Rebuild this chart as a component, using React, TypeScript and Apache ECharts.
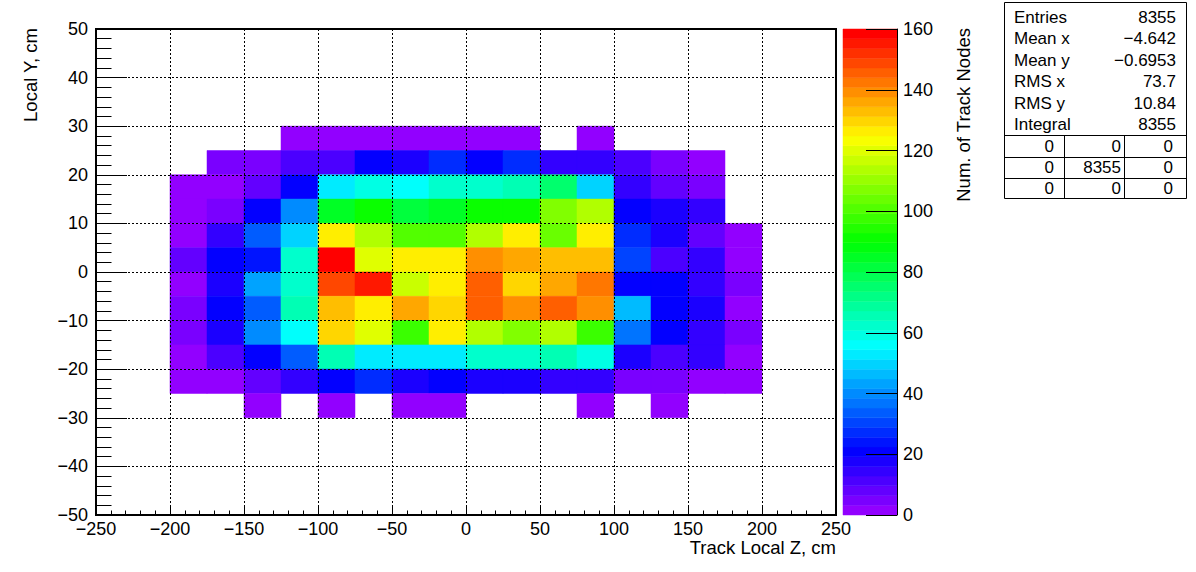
import React, { useEffect, useRef } from 'react';
import * as echarts from 'echarts';

// ---------- data ----------
const zLowEdges = [-200, -175, -150, -125, -100, -75, -50, -25, 0, 25, 50, 75, 100, 125, 150, 175];
const yLowEdges = [25, 20, 15, 10, 5, 0, -5, -10, -15, -20, -25, -30];
const Z_BIN_WIDTH = 25;
const Y_BIN_WIDTH = 5;

const countsY25 = [null, null, null, 2, 2, 3, 2, 2, 2, 3, null, 2, null, null, null, null];
const countsY20 = [null, 5, 5, 11, 11, 21, 18, 27, 21, 27, 14, 14, 11, 5, 2, null];
const countsY15 = [2, 2, 8, 21, 53, 59, 56, 62, 62, 66, 75, 50, 14, 8, 5, null];
const countsY10 = [2, 5, 21, 40, 85, 91, 82, 85, 91, 91, 107, 114, 21, 18, 14, null];
const countsY5 = [2, 14, 34, 50, 126, 114, 101, 101, 114, 126, 104, 126, 27, 18, 8, 2];
const countsY0 = [8, 21, 25, 62, 159, 120, 126, 126, 139, 136, 133, 133, 30, 11, 14, 2];
const countsYm5 = [2, 18, 43, 62, 149, 155, 117, 126, 146, 130, 136, 142, 21, 21, 14, 5];
const countsYm10 = [5, 21, 34, 66, 133, 126, 136, 130, 146, 139, 146, 139, 46, 21, 18, 2];
const countsYm15 = [5, 18, 40, 56, 130, 120, 98, 126, 114, 107, 114, 98, 37, 21, 14, 5];
const countsYm20 = [2, 11, 21, 34, 66, 53, 53, 53, 62, 62, 66, 59, 18, 11, 14, 2];
const countsYm25 = [2, 2, 8, 14, 21, 27, 18, 21, 18, 18, 14, 14, 5, 5, 2, 2];
const countsYm30 = [null, null, 2, null, 2, null, 2, 2, null, null, null, 2, null, 2, null, null];

const countRows = [
  countsY25, countsY20, countsY15, countsY10, countsY5, countsY0,
  countsYm5, countsYm10, countsYm15, countsYm20, countsYm25, countsYm30,
];

const Z_MIN = 0;
const Z_MAX = 160;
const N_COLORS = 50;

const statLabels = ['Entries', 'Mean x', 'Mean y', 'RMS x', 'RMS y', 'Integral'];
const statValues = ['8355', '\u22124.642', '\u22120.6953', '73.7', '10.84', '8355'];
const statTable = [
  ['0', '0', '0'],
  ['0', '8355', '0'],
  ['0', '0', '0'],
];

const xTitle = 'Track Local Z, cm';
const yTitle = 'Local Y, cm';
const zTitle = 'Num. of Track Nodes';

// ---------- palette (ROOT "pretty palette") ----------
function hueToHex(h: number): string {
  const s = h / 60;
  const x = 1 - Math.abs((s % 2) - 1);
  let r = 0, g = 0, b = 0;
  if (s < 1) { r = 1; g = x; }
  else if (s < 2) { r = x; g = 1; }
  else if (s < 3) { g = 1; b = x; }
  else if (s < 4) { g = x; b = 1; }
  else if (s < 5) { r = x; b = 1; }
  else { r = 1; b = x; }
  const hx = (v: number) => Math.round(v * 255).toString(16).padStart(2, '0');
  return '#' + hx(r) + hx(g) + hx(b);
}
function paletteColor(i: number): string {
  if (i >= N_COLORS - 1) return '#ff0000';
  return hueToHex(280 - (i + 1) * (280 / N_COLORS));
}
function colorIndex(v: number): number {
  return Math.max(0, Math.min(N_COLORS - 1, Math.floor(0.01 + ((v - Z_MIN) * N_COLORS) / (Z_MAX - Z_MIN))));
}

const FONT = '"Liberation Sans", Arial, Helvetica, sans-serif';
const minus = (v: number) => String(v).replace('-', '\u2212');

export default function App() {
  const ref = useRef<HTMLDivElement>(null);
  useEffect(() => {
    document.body.style.margin = '0';
    const chart = echarts.init(ref.current!, null, { renderer: 'svg' });

    const cellData: number[][] = [];
    countRows.forEach((row, r) => {
      row.forEach((v, c) => {
        if (v !== null && v !== undefined) cellData.push([zLowEdges[c], yLowEdges[r], v as number]);
      });
    });
    const levelData: number[][] = [];
    for (let i = 0; i < N_COLORS; i++) {
      const lo = Z_MIN + (i * (Z_MAX - Z_MIN)) / N_COLORS;
      const hi = Z_MIN + ((i + 1) * (Z_MAX - Z_MIN)) / N_COLORS;
      levelData.push([lo, hi, i]);
    }

    const tickStyle = { color: '#000', width: 1 };
    const labelStyle = { fontSize: 18, color: '#000', fontFamily: FONT };

    const graphics: any[] = [];
    // axis titles
    graphics.push({
      type: 'text', x: 836, y: 547,
      style: { text: xTitle, font: `18.5px ${FONT}`, fill: '#000', textAlign: 'right', textVerticalAlign: 'middle' },
    });
    graphics.push({
      type: 'text', x: 30, y: 28, rotation: Math.PI / 2,
      style: { text: yTitle, font: `18.5px ${FONT}`, fill: '#000', textAlign: 'right', textVerticalAlign: 'middle' },
    });
    graphics.push({
      type: 'text', x: 963, y: 28, rotation: Math.PI / 2,
      style: { text: zTitle, font: `18.5px ${FONT}`, fill: '#000', textAlign: 'right', textVerticalAlign: 'middle' },
    });
    // stats box
    const bx0 = 1004.5, bx1 = 1186.5, by0 = 2.5, by1 = 198.5;
    graphics.push({
      type: 'rect', shape: { x: bx0, y: by0, width: bx1 - bx0, height: by1 - by0 },
      style: { fill: '#fff', stroke: '#000', lineWidth: 1 },
    });
    const rowY = [17, 38, 60, 81, 103, 124];
    statLabels.forEach((lab, i) => {
      graphics.push({
        type: 'text', x: 1014, y: rowY[i],
        style: { text: lab, font: `17px ${FONT}`, fill: '#000', textAlign: 'left', textVerticalAlign: 'middle' },
      });
      graphics.push({
        type: 'text', x: 1176, y: rowY[i],
        style: { text: statValues[i], font: `17px ${FONT}`, fill: '#000', textAlign: 'right', textVerticalAlign: 'middle' },
      });
    });
    const hLines = [135.5, 157.5, 178.5];
    hLines.forEach((y) => {
      graphics.push({ type: 'line', shape: { x1: bx0, y1: y, x2: bx1, y2: y }, style: { stroke: '#000', lineWidth: 1 } });
    });
    [1064.5, 1124.5].forEach((x) => {
      graphics.push({ type: 'line', shape: { x1: x, y1: 135.5, x2: x, y2: by1 }, style: { stroke: '#000', lineWidth: 1 } });
    });
    const tableY = [146, 167, 188];
    const tableX = [1054, 1121, 1173];
    statTable.forEach((row, r) => {
      row.forEach((txt, c) => {
        graphics.push({
          type: 'text', x: tableX[c], y: tableY[r],
          style: { text: txt, font: `17px ${FONT}`, fill: '#000', textAlign: 'right', textVerticalAlign: 'middle' },
        });
      });
    });

    const option: any = {
      animation: false,
      backgroundColor: '#ffffff',
      textStyle: { fontFamily: FONT },
      grid: [
        { left: 96, top: 29, width: 740, height: 486, show: true, borderColor: '#000', borderWidth: 2, backgroundColor: 'transparent', containLabel: false, outerBoundsMode: 'none' },
        { left: 843, top: 29, width: 54, height: 486, show: false, containLabel: false, outerBoundsMode: 'none' },
      ],
      xAxis: [
        {
          gridIndex: 0, type: 'value', min: -250, max: 250, interval: 50, z: 5,
          axisLine: { show: true, onZero: false, lineStyle: { color: '#000', width: 2 } },
          axisTick: { show: true, inside: true, length: 9, lineStyle: tickStyle },
          minorTick: { show: true, splitNumber: 5, length: 4.5, lineStyle: tickStyle },
          splitLine: { show: true, lineStyle: { color: '#000', width: 1, type: [2, 2] } },
          axisLabel: { ...labelStyle, margin: 5, formatter: minus, showMinLabel: true, showMaxLabel: true },
        },
        { gridIndex: 1, type: 'value', min: 0, max: 1, show: false },
      ],
      yAxis: [
        {
          gridIndex: 0, type: 'value', min: -50, max: 50, interval: 10, z: 5,
          axisLine: { show: true, onZero: false, lineStyle: { color: '#000', width: 2 } },
          axisTick: { show: true, inside: true, length: 31, lineStyle: tickStyle },
          minorTick: { show: true, splitNumber: 5, length: 15.5, lineStyle: tickStyle },
          splitLine: { show: true, lineStyle: { color: '#000', width: 1, type: [2, 2] } },
          axisLabel: { ...labelStyle, margin: 8, formatter: minus, showMinLabel: true, showMaxLabel: true },
        },
        {
          gridIndex: 1, type: 'value', position: 'right', min: Z_MIN, max: Z_MAX, interval: 20, z: 5,
          axisLine: { show: true, onZero: false, lineStyle: { color: '#000', width: 1 } },
          axisTick: { show: true, inside: true, length: 31, lineStyle: tickStyle },
          splitLine: { show: false },
          axisLabel: { ...labelStyle, margin: 6, showMinLabel: true, showMaxLabel: true },
        },
      ],
      series: [
        {
          type: 'custom', xAxisIndex: 0, yAxisIndex: 0, z: 2,
          data: cellData, encode: { x: 0, y: 1 },
          renderItem: (params: any, api: any) => {
            const x0 = api.value(0), y0 = api.value(1), v = api.value(2);
            const p1 = api.coord([x0, y0 + Y_BIN_WIDTH]);
            const p2 = api.coord([x0 + Z_BIN_WIDTH, y0]);
            const col = paletteColor(colorIndex(v));
            return {
              type: 'rect',
              shape: { x: p1[0], y: p1[1], width: p2[0] - p1[0], height: p2[1] - p1[1] },
              style: { fill: col, stroke: col, lineWidth: 0.5 },
            };
          },
        },
        {
          type: 'custom', xAxisIndex: 1, yAxisIndex: 1, z: 2,
          data: levelData, encode: { y: [0, 1] },
          renderItem: (params: any, api: any) => {
            const lo = api.value(0), hi = api.value(1), i = api.value(2);
            const p1 = api.coord([0, hi]);
            const p2 = api.coord([1, lo]);
            const col = paletteColor(i);
            return {
              type: 'rect',
              shape: { x: p1[0], y: p1[1], width: p2[0] - p1[0], height: p2[1] - p1[1] },
              style: { fill: col, stroke: col, lineWidth: 0.5 },
            };
          },
        },
      ],
      graphic: graphics,
    };
    chart.setOption(option);
    return () => chart.dispose();
  }, []);
  return <div ref={ref} style={{ width: 1196, height: 572, background: '#fff' }} />;
}
